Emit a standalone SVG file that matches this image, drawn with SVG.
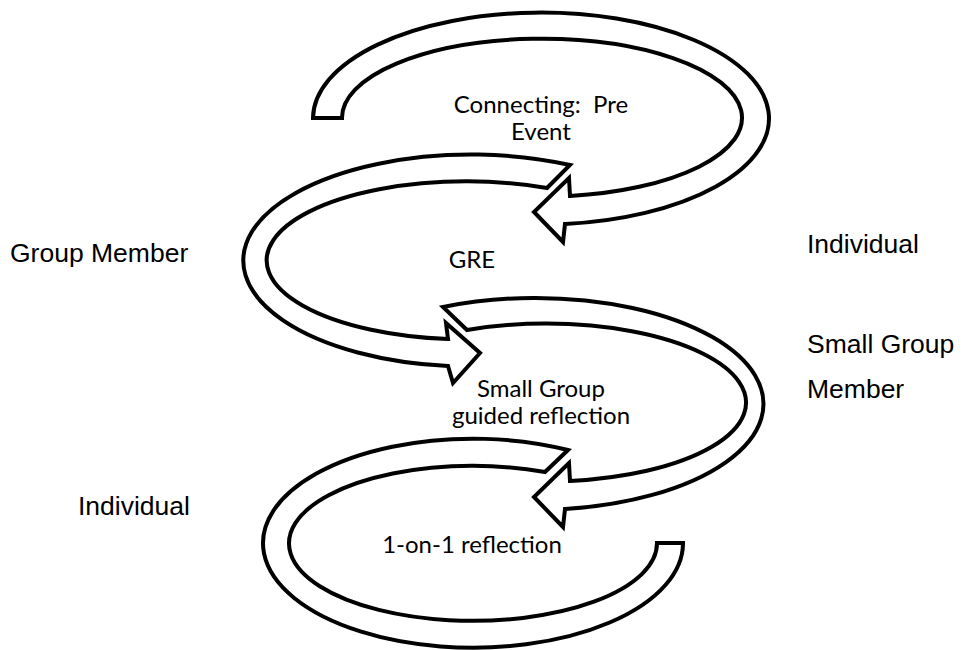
<svg xmlns="http://www.w3.org/2000/svg" width="967" height="650" viewBox="0 0 967 650">
  <style>
    .band { fill: #ffffff; stroke: #000000; stroke-width: 4; stroke-linejoin: miter; stroke-miterlimit: 10; }
    .inner { font-family: Lato, "Open Sans", sans-serif; font-size: 24px; fill: #000000; text-anchor: middle; }
    .side { font-family: "Liberation Sans", Arial, sans-serif; font-size: 26.5px; fill: #000000; }
  </style>
  <rect width="967" height="650" fill="#ffffff"/>

  <!-- curved arrow bands -->
  <g id="connectors">
    <!-- top loop: flat tail on the left, head at the bottom pointing left -->
    <path id="arrow-pre-event" class="band"
          d="M 313,118 A 228 106 0 1 1 565,224 L 563,242 L 534,212 L 569,178 L 570,196 A 200 79 0 1 0 342,118 Z"/>
    <!-- second loop: tail top right, head at the bottom pointing right -->
    <path id="arrow-gre" class="band"
          d="M 570,165 A 228 106 0 1 0 448,366 L 453,383 L 480,353 L 446,323 L 448,339 A 200 79 0 1 1 547,188 Z"/>
    <!-- third loop: tail top left, head at the bottom pointing left -->
    <path id="arrow-small-group" class="band"
          d="M 443,307 A 228 106 0 1 1 565,509 L 563,527 L 534,497 L 569,463 L 570,481 A 200 79 0 1 0 467,330 Z"/>
    <!-- bottom loop: open band ending flat on the right -->
    <path id="arrow-one-on-one" class="band"
          d="M 568,450 A 210 104.5 0 1 0 683,543 L 657,543 A 184 77.5 0 1 1 545,472 Z"/>
  </g>

  <!-- stage labels inside the loops -->
  <g id="node-pre-event">
    <text class="inner" x="541" y="113" xml:space="preserve">Connecting:  Pre</text>
    <text class="inner" x="541" y="140">Event</text>
  </g>
  <g id="node-gre">
    <text class="inner" x="472" y="268">GRE</text>
  </g>
  <g id="node-small-group">
    <text class="inner" x="541" y="397">Small Group</text>
    <text class="inner" x="541" y="424">guided reflection</text>
  </g>
  <g id="node-one-on-one">
    <text class="inner" x="472" y="553">1-on-1 reflection</text>
  </g>

  <!-- participant roles beside the loops -->
  <g id="label-group-member">
    <text class="side" x="10" y="262">Group Member</text>
  </g>
  <g id="label-individual-right">
    <text class="side" x="807" y="253">Individual</text>
  </g>
  <g id="label-small-group-member">
    <text class="side" x="807" y="353">Small Group</text>
    <text class="side" x="807" y="398">Member</text>
  </g>
  <g id="label-individual-left">
    <text class="side" x="78" y="515">Individual</text>
  </g>
</svg>
